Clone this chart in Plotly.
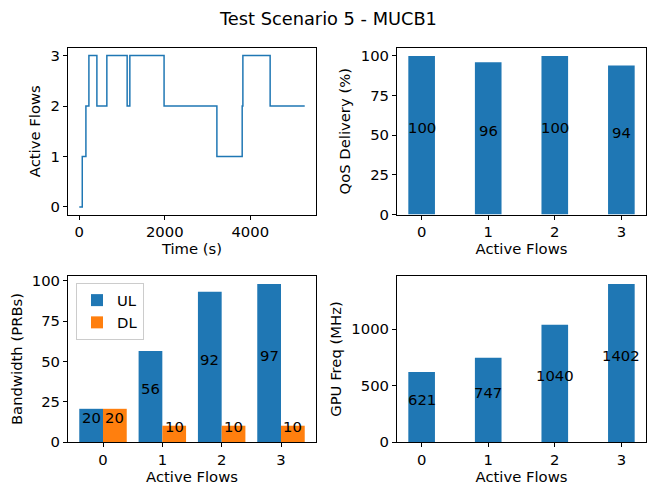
import plotly.graph_objects as go

# ---------------- data ----------------
time_s = [0, 70, 155, 225, 412, 645, 1120, 1183, 1984, 3220, 3812, 3828, 4466, 5275]
active_flows = [0, 1, 2, 3, 2, 3, 2, 3, 2, 1, 2, 3, 2, 2]

flow_cats = [0, 1, 2, 3]
qos_delivery = [100, 96, 100, 94]
qos_labels = ["100", "96", "100", "94"]

bw_ul = [20.6, 56.5, 93.2, 98.1]
bw_dl = [20.6, 10.1, 10.1, 10.1]
bw_ul_labels = ["20", "56", "92", "97"]
bw_dl_labels = ["20", "10", "10", "10"]

gpu_freq = [621, 747, 1040, 1402]
gpu_labels = ["621", "747", "1040", "1402"]

# ---------------- style ----------------
W, H = 656, 485
OFF = 8  # page body margin
BLUE = "#1f77b4"
ORANGE = "#ff7f0e"
FONT = "DejaVu Sans"
FS = 14.8

def xd(a, b):
    return [(a - OFF) / W, (b - OFF) / W]

def yd(top, bottom):
    return [1 - (bottom - OFF) / H, 1 - (top - OFF) / H]

dom_x_left = xd(68, 316)
dom_x_right = xd(397, 646)
dom_y_top = yd(48, 214.5)
dom_y_bot = yd(276, 442)

fig = go.Figure()

# top-left: step line
fig.add_trace(go.Scatter(x=time_s, y=active_flows, mode="lines", line_shape="hv",
                         line=dict(color=BLUE, width=1.5), xaxis="x", yaxis="y",
                         showlegend=False, hoverinfo="skip"))

# top-right: QoS
fig.add_trace(go.Bar(x=flow_cats, y=qos_delivery, width=0.4, marker_color=BLUE,
                     marker_line_width=0, xaxis="x2", yaxis="y2", showlegend=False))

# bottom-left: bandwidth
fig.add_trace(go.Bar(x=[c - 0.2 for c in flow_cats], y=bw_ul, width=0.4, marker_color=BLUE,
                     marker_line_width=0, name="UL", xaxis="x3", yaxis="y3"))
fig.add_trace(go.Bar(x=[c + 0.2 for c in flow_cats], y=bw_dl, width=0.4, marker_color=ORANGE,
                     marker_line_width=0, name="DL", xaxis="x3", yaxis="y3"))

# bottom-right: GPU freq
fig.add_trace(go.Bar(x=flow_cats, y=gpu_freq, width=0.4, marker_color=BLUE,
                     marker_line_width=0, xaxis="x4", yaxis="y4", showlegend=False))

annotations = []
def label(xref, yref, x, y, text):
    annotations.append(dict(x=x, y=y, xref=xref, yref=yref, text=text, showarrow=False,
                            xanchor="center", yanchor="bottom", yshift=-3,
                            font=dict(family=FONT, size=FS, color="black")))

for c, v, t in zip(flow_cats, qos_delivery, qos_labels):
    label("x2", "y2", c, v / 2, t)
for c, v, t in zip(flow_cats, bw_ul, bw_ul_labels):
    label("x3", "y3", c - 0.2, v / 2, t)
for c, v, t in zip(flow_cats, bw_dl, bw_dl_labels):
    label("x3", "y3", c + 0.2, v / 2, t)
for c, v, t in zip(flow_cats, gpu_freq, gpu_labels):
    label("x4", "y4", c, v / 2, t)

annotations.append(dict(x=(328 - OFF) / W, y=1 - (18 - OFF) / H, xref="paper", yref="paper",
                        text="Test Scenario 5 - MUCB1", showarrow=False,
                        xanchor="center", yanchor="middle",
                        font=dict(family=FONT, size=17.8, color="black")))

def axis(domain, rng, title, tickvals, anchor, standoff):
    return dict(domain=domain, range=rng, anchor=anchor, automargin=False,
                title=dict(text=title, standoff=standoff, font=dict(family=FONT, size=FS, color="black")),
                tickvals=tickvals, showline=True, mirror=True, linecolor="black", linewidth=1,
                ticks="outside", ticklen=4, tickcolor="black", tickwidth=1,
                showgrid=False, zeroline=False, fixedrange=True,
                tickfont=dict(family=FONT, size=FS, color="black"))

fig.update_layout(
    width=W, height=H,
    margin=dict(l=0, r=0, t=0, b=0),
    paper_bgcolor="white", plot_bgcolor="white",
    font=dict(family=FONT, size=FS, color="black"),
    barmode="overlay",
    xaxis=axis(dom_x_left, [-264, 5539], "Time (s)", [0, 2000, 4000], "y", 2),
    yaxis=axis(dom_y_top, [-0.15, 3.15], "Active Flows", [0, 1, 2, 3], "x", 6),
    xaxis2=axis(dom_x_right, [-0.37, 3.37], "Active Flows", [0, 1, 2, 3], "y2", 2),
    yaxis2=axis(dom_y_top, [0, 105], "QoS Delivery (%)", [0, 25, 50, 75, 100], "x2", 6),
    xaxis3=axis(dom_x_left, [-0.59, 3.59], "Active Flows", [0, 1, 2, 3], "y3", 2),
    yaxis3=axis(dom_y_bot, [0, 103], "Bandwidth (PRBs)", [0, 25, 50, 75, 100], "x3", 6),
    xaxis4=axis(dom_x_right, [-0.37, 3.37], "Active Flows", [0, 1, 2, 3], "y4", 2),
    yaxis4=axis(dom_y_bot, [0, 1472], "GPU Freq (MHz)", [0, 500, 1000], "x4", 6),
    legend=dict(x=(76 - OFF) / W, y=1 - (283 - OFF) / H, xanchor="left", yanchor="top",
                bgcolor="rgba(255,255,255,0.8)", bordercolor="#cccccc", borderwidth=1,
                font=dict(family=FONT, size=FS, color="black"), itemwidth=30,
                tracegroupgap=4),
    annotations=annotations,
    hovermode=False,
)

fig.write_html("out.html")
